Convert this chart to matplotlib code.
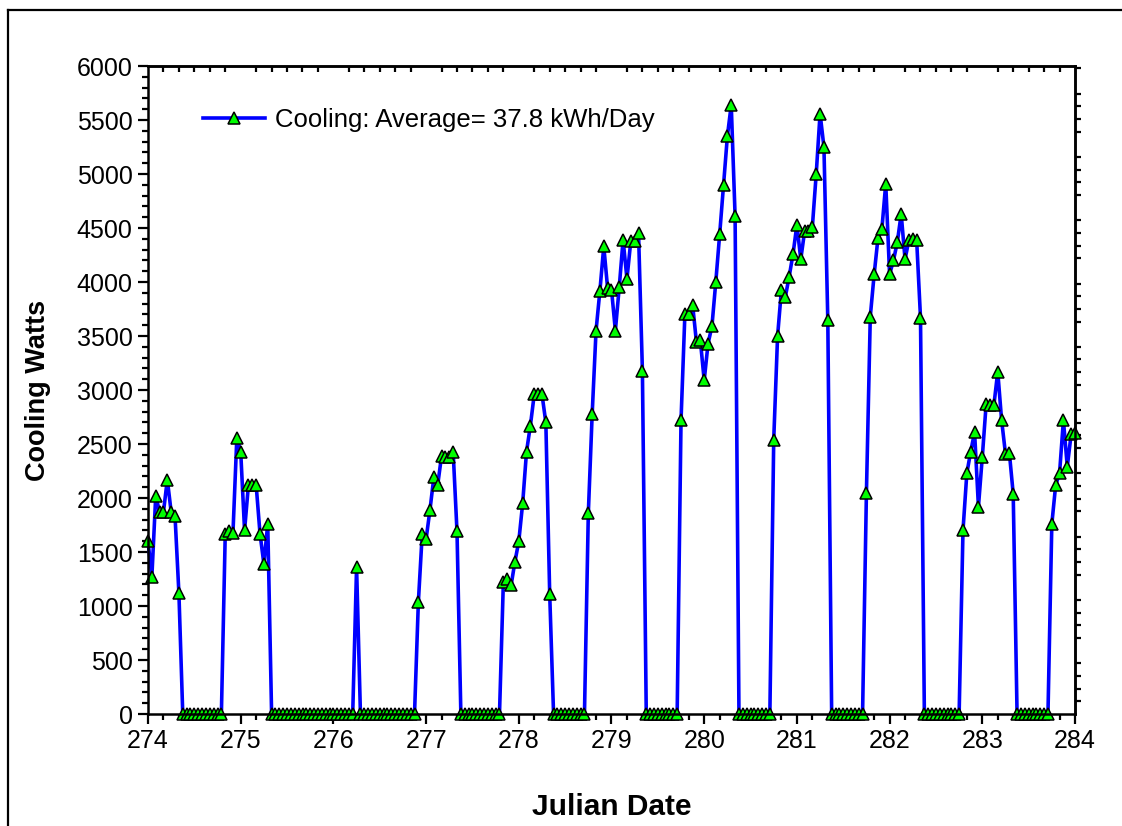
import numpy as np
import matplotlib
matplotlib.use("Agg")
import matplotlib.pyplot as plt
from matplotlib.ticker import MultipleLocator, NullFormatter
from matplotlib.lines import Line2D

plt.rcParams['font.family'] = ['Liberation Sans', 'DejaVu Sans']

# hourly cooling watts, one list per Julian day (hours 0..23)
day274 = [1600, 1270, 2020, 1870, 1870, 2170, 1870, 1830, 1120,
          0, 0, 0, 0, 0, 0, 0, 0, 0, 0, 0,
          1670, 1690, 1680, 2560]
day275 = [2430, 1700, 2120, 2120, 2120, 1670, 1390, 1760,
          0, 0, 0, 0, 0, 0, 0, 0, 0, 0, 0, 0, 0, 0, 0, 0]
day276 = [0, 0, 0, 0, 0, 0, 1360,
          0, 0, 0, 0, 0, 0, 0, 0, 0, 0, 0, 0, 0, 0, 0,
          1040, 1670]
day277 = [1620, 1890, 2190, 2120, 2390, 2380, 2380, 2430, 1690,
          0, 0, 0, 0, 0, 0, 0, 0, 0, 0, 0,
          1220, 1250, 1190, 1410]
day278 = [1600, 1950, 2430, 2670, 2960, 2960, 2960, 2700, 1110,
          0, 0, 0, 0, 0, 0, 0, 0, 0,
          1860, 2780, 3550, 3920, 4330, 3940]
day279 = [3930, 3550, 3950, 4390, 4030, 4380, 4380, 4450, 3180,
          0, 0, 0, 0, 0, 0, 0, 0, 0,
          2720, 3700, 3700, 3790, 3440, 3460]
day280 = [3090, 3430, 3590, 4000, 4440, 4900, 5350, 5640, 4610,
          0, 0, 0, 0, 0, 0, 0, 0, 0,
          2540, 3500, 3930, 3860, 4050, 4260]
day281 = [4530, 4210, 4470, 4470, 4510, 5000, 5560, 5250, 3650,
          0, 0, 0, 0, 0, 0, 0, 0, 0,
          2050, 3680, 4070, 4410, 4490, 4910]
day282 = [4070, 4200, 4370, 4630, 4210, 4390, 4400, 4390, 3670,
          0, 0, 0, 0, 0, 0, 0, 0, 0, 0,
          1700, 2230, 2430, 2610, 1920]
day283 = [2380, 2870, 2860, 2860, 3170, 2720, 2410, 2420, 2040,
          0, 0, 0, 0, 0, 0, 0, 0, 0,
          1760, 2120, 2230, 2720, 2290, 2590]
day284 = [2600]

days = [274, 275, 276, 277, 278, 279, 280, 281, 282, 283, 284]
series = [day274, day275, day276, day277, day278, day279, day280,
          day281, day282, day283, day284]

label = "Cooling: Average= 37.8 kWh/Day"

x = []
y = []
for d, vals in zip(days, series):
    for h, v in enumerate(vals):
        x.append(d + h / 24.0)
        y.append(v)

fig = plt.figure(figsize=(11.22, 8.26), dpi=100)
ax = fig.add_axes([148/1122, 1-714/826, 927/1122, 648/826])

ax.plot(x, y, color='#0000ff', lw=2.6, marker='^', ms=9,
        mfc='#00ff00', mec='black', mew=1.1, clip_on=False, label=label)

ax.set_xlim(274, 284)
ax.set_ylim(0, 6000)
ax.xaxis.set_major_locator(MultipleLocator(1))
ax.xaxis.set_minor_locator(MultipleLocator(1/6))
ax.yaxis.set_major_locator(MultipleLocator(500))
ax.yaxis.set_minor_locator(MultipleLocator(100))
ax.tick_params(which='both', direction='out', width=1.6, labelsize=18,
               top=False, right=False, pad=4)
ax.tick_params(which='major', length=7)
ax.tick_params(which='minor', length=4.5)
for s in ax.spines.values():
    s.set_linewidth(1.8)

# top axis: minor ticks only, pointing in
top = ax.secondary_xaxis('top')
top.xaxis.set_major_locator(MultipleLocator(1))
top.xaxis.set_minor_locator(MultipleLocator(1/6))
top.xaxis.set_major_formatter(NullFormatter())
top.tick_params(which='major', length=0)
top.tick_params(which='minor', direction='in', length=4.5, width=1.6)
top.spines['top'].set_linewidth(1.8)

# right axis: BTU/h scale, minor ticks only, pointing out
right = ax.secondary_yaxis('right', functions=(lambda w: w * 3.412,
                                                lambda b: b / 3.412))
right.yaxis.set_major_locator(MultipleLocator(2000))
right.yaxis.set_minor_locator(MultipleLocator(400))
right.yaxis.set_major_formatter(NullFormatter())
right.tick_params(which='major', length=0)
right.tick_params(which='minor', direction='out', length=4.5, width=1.6)
right.spines['right'].set_linewidth(1.8)

ax.set_xlabel("Julian Date", fontsize=21.5, fontweight='bold')
ax.set_ylabel("Cooling Watts", fontsize=19.5, fontweight='bold')
ax.xaxis.set_label_coords(0.5, -0.122)
ax.yaxis.set_label_coords(-0.105, 0.5)

ax.legend(loc='center left', bbox_to_anchor=(55/927, (714-120)/648),
          frameon=False, fontsize=18.5, handlelength=2.4,
          handletextpad=0.4, borderpad=0, borderaxespad=0)

# outer frame (left and top edges visible)
fig.add_artist(Line2D([8/1122, 8/1122], [0, 1-10/826], color='black', lw=1.6))
fig.add_artist(Line2D([8/1122, 1], [1-10/826, 1-10/826], color='black', lw=1.6))

fig.savefig("out.png", dpi=100)
